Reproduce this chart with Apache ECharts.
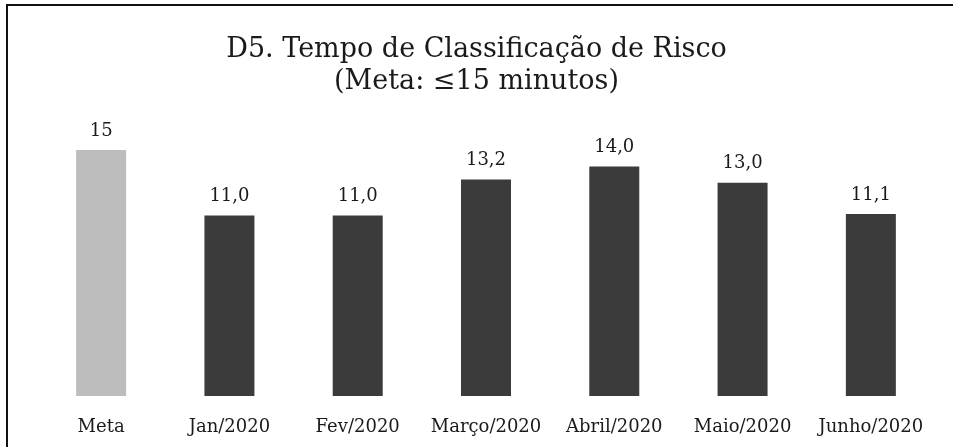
<!DOCTYPE html>
<html>
<head>
<meta charset="utf-8">
<script src="https://cdn.jsdelivr.net/npm/echarts@6/dist/echarts.min.js"></script>
<style>
    html, body { margin: 0; padding: 0; background: #fff; }
    #chart { width: 953px; height: 447px; }
</style>
</head>
<body>
<div id="chart"></div>
<script>
// categorias e valores
const categorias = ['Meta', 'Jan/2020', 'Fev/2020', 'Março/2020', 'Abril/2020', 'Maio/2020', 'Junho/2020']
const valores = [15, 11.0, 11.0, 13.2, 14.0, 13.0, 11.1]
const corMeta = '#bdbdbd'
const corMes = '#3b3b3b'
const fonte = 'DejaVu Serif'

let myChart = echarts.init(document.getElementById('chart'))

const options = {
    backgroundColor: '#fff',
    animation: false,
    title: {
        text: 'D5. Tempo de Classificação de Risco\n(Meta: ≤15 minutos)',
        left: 'center',
        top: 29,
        textStyle: {
            fontFamily: fonte,
            fontSize: 27,
            fontWeight: 'normal',
            color: '#1a1a1a',
            lineHeight: 32
        }
    },
    // moldura da página escaneada
    graphic: [{
        type: 'rect',
        shape: { x: 7, y: 5, width: 1000, height: 500 },
        style: { fill: 'none', stroke: '#111', lineWidth: 2 }
    }],
    grid: {
        left: 37,
        right: 18,
        top: 150,
        bottom: 51
    },
    xAxis: {
        type: 'category',
        data: categorias,
        axisLine: { show: false },
        axisTick: { show: false },
        axisLabel: {
            interval: 0,
            hideOverlap: false,
            margin: 22,
            fontFamily: fonte,
            fontSize: 18,
            color: '#1a1a1a'
        }
    },
    yAxis: {
        type: 'value',
        min: 0,
        max: 15,
        show: false
    },
    series: [{
        type: 'bar',
        barWidth: 50,
        data: valores.map((v, i) => ({
            value: v,
            itemStyle: { color: i === 0 ? corMeta : corMes }
        })),
        label: {
            show: true,
            position: 'top',
            distance: 10,
            fontFamily: fonte,
            fontSize: 18,
            color: '#1a1a1a',
            formatter: (p) => p.dataIndex === 0 ? String(p.value) : p.value.toFixed(1).replace('.', ',')
        }
    }]
}

myChart.setOption(options)
window.addEventListener('resize', () => {
    myChart.resize()
})
</script>
</body>
</html>
